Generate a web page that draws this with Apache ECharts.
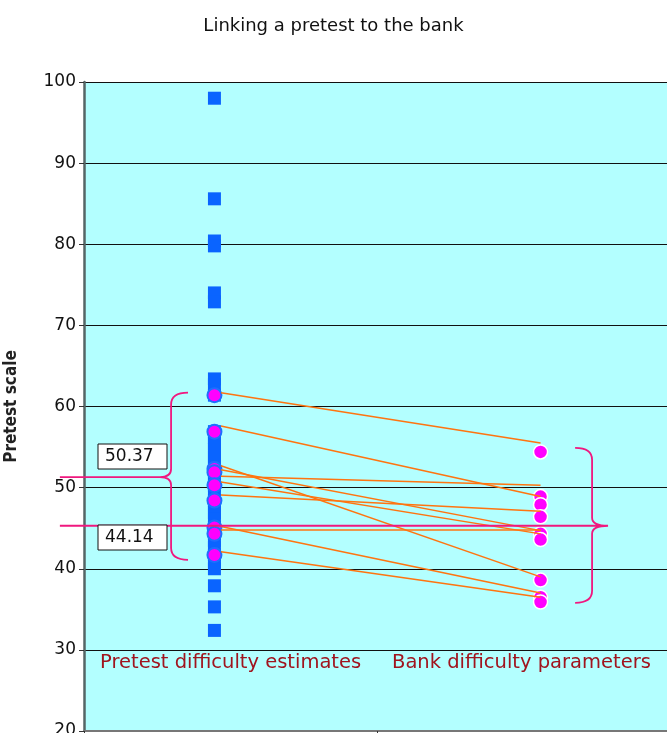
<!DOCTYPE html>
<html>
<head>
<meta charset="utf-8">
<script src="https://cdn.jsdelivr.net/npm/echarts@6/dist/echarts.min.js"></script>
<style>
  html, body { margin: 0; padding: 0; background: #fff; }
  #chart { width: 667px; height: 733px; }
</style>
</head>
<body>
<div id="chart"></div>
<script>
// pretest item difficulties (blue squares, x = 1)
const pretestItems = [98.0, 85.6, 80.4, 79.8, 74.0, 72.9, 63.4, 62.7, 61.4, 56.9, 56.2, 55.4,
  54.7, 53.8, 53.1, 52.3, 51.9, 51.2, 50.3, 49.6, 48.4, 47.7, 46.9, 46.1, 45.1, 44.3,
  43.5, 42.6, 41.7, 40.9, 40.0, 37.9, 35.3, 32.4];
// linking items: pretest estimates (x = 1) and bank parameters (x = 2)
const linkPretest = [61.4, 56.9, 52.3, 51.9, 50.3, 48.4, 45.1, 44.3, 41.7];
const linkBank = [54.4, 48.9, 47.9, 46.4, 44.3, 43.6, 38.6, 36.5, 35.9];
// orange connector lines, left end / right end
const lineFrom = [61.7, 57.6, 52.7, 52.2, 51.4, 50.7, 49.1, 45.2, 44.8, 42.1];
const lineTo = [55.5, 48.9, 39.0, 44.7, 50.3, 44.3, 47.1, 37.0, 44.8, 36.5];
// braces: top, tip, bottom
const braces = [[61.7, 51.3, 41.1], [54.9, 45.3, 35.8]];
const meanLabels = ['50.37', '44.14'];
const columnNames = ['Pretest difficulty estimates', 'Bank difficulty parameters'];

const chart = echarts.init(document.getElementById('chart'));
const font = 'DejaVu Sans, Verdana, sans-serif';
const pink = '#F0187F';

// x positions of brace parts: end, spine, tip, line start
const braceX = [
  {end: 0.919, spine: 0.867, tip: 0.833, start: 0.526},
  {end: 2.106, spine: 2.158, tip: 2.207, start: 0.526}
];

function renderBrace(params, api) {
  const bx = braceX[params.dataIndex];
  const top = api.value(0), mid = api.value(1), bot = api.value(2);
  const p = (x, y) => api.coord([x, y]);
  const e1 = p(bx.end, top), s1 = p(bx.spine, top);
  const sm = p(bx.spine, mid), t = p(bx.tip, mid);
  const s2 = p(bx.spine, bot), e2 = p(bx.end, bot);
  const st = p(bx.start, mid);
  const r = 12, rm = 8;
  const d = 'M' + e1[0] + ' ' + e1[1] +
    ' Q' + s1[0] + ' ' + s1[1] + ' ' + s1[0] + ' ' + (s1[1] + r) +
    ' L' + sm[0] + ' ' + (sm[1] - rm) +
    ' Q' + sm[0] + ' ' + sm[1] + ' ' + t[0] + ' ' + t[1] +
    ' Q' + sm[0] + ' ' + sm[1] + ' ' + sm[0] + ' ' + (sm[1] + rm) +
    ' L' + s2[0] + ' ' + (s2[1] - r) +
    ' Q' + s2[0] + ' ' + s2[1] + ' ' + e2[0] + ' ' + e2[1] +
    ' M' + st[0] + ' ' + st[1] + ' L' + t[0] + ' ' + t[1];
  return {
    type: 'path',
    shape: {pathData: d},
    style: {fill: null, stroke: pink, lineWidth: 1.8}
  };
}

const option = {
  animation: false,
  title: {
    text: 'Linking a pretest to the bank',
    left: 'center',
    top: 12,
    textStyle: {fontFamily: font, fontSize: 18, fontWeight: 'normal', color: '#111'}
  },
  grid: {
    left: 84, top: 82, right: -4, bottom: 2,
    show: true, backgroundColor: '#B3FFFF', borderWidth: 0,
    outerBoundsMode: 'none'
  },
  xAxis: {
    type: 'value', min: 0.6, max: 2.4, interval: 0.9,
    axisLine: {lineStyle: {color: '#777', width: 2}},
    axisTick: {show: true, length: 5, lineStyle: {color: '#333'}},
    axisLabel: {show: false},
    splitLine: {show: false}
  },
  yAxis: {
    type: 'value', min: 20, max: 100, interval: 10,
    name: 'Pretest scale',
    nameLocation: 'middle',
    nameGap: 64,
    nameTextStyle: {fontFamily: 'DejaVu Sans Condensed, DejaVu Sans, sans-serif', fontWeight: 'bold', fontSize: 17, color: '#222'},
    axisLine: {show: true, lineStyle: {color: '#556666', width: 2.5}},
    axisTick: {show: true, length: 5, lineStyle: {color: '#333'}},
    axisLabel: {fontFamily: font, fontSize: 17, color: '#111', margin: 8},
    splitLine: {lineStyle: {color: '#111', width: 1}}
  },
  series: [
    {
      type: 'scatter', z: 2,
      symbol: 'rect', symbolSize: 13,
      itemStyle: {color: '#0A64FF', opacity: 1},
      data: pretestItems.map(v => [1, v])
    },
    {
      type: 'scatter', z: 3,
      symbol: 'circle', symbolSize: 14,
      itemStyle: {color: '#FF00FF', borderColor: '#1E6FFF', borderWidth: 2, opacity: 1},
      data: linkPretest.map(v => [1, v])
    },
    {
      type: 'scatter', z: 3,
      symbol: 'circle', symbolSize: 14,
      itemStyle: {color: '#FF00FF', borderColor: '#fff', borderWidth: 1.5, opacity: 1},
      data: linkBank.map(v => [2, v])
    },
    {
      type: 'lines', coordinateSystem: 'cartesian2d', z: 4,
      lineStyle: {color: '#FF7410', width: 1.5, opacity: 1},
      data: lineFrom.map((v, i) => ({coords: [[1.02, v], [2, lineTo[i]]]}))
    },
    {
      type: 'custom', z: 5, clip: false,
      renderItem: renderBrace,
      data: braces
    }
  ],
  graphic: [
    {type: 'rect', z: 100, shape: {x: 98, y: 444, width: 69, height: 25},
      style: {fill: '#fff', stroke: '#111', lineWidth: 1}},
    {type: 'text', z: 101, x: 105, y: 456.5,
      style: {text: meanLabels[0], font: '17px ' + font, fill: '#111', verticalAlign: 'middle'}},
    {type: 'rect', z: 100, shape: {x: 98, y: 525, width: 69, height: 25},
      style: {fill: '#fff', stroke: '#111', lineWidth: 1}},
    {type: 'text', z: 101, x: 105, y: 537.5,
      style: {text: meanLabels[1], font: '17px ' + font, fill: '#111', verticalAlign: 'middle'}},
    {type: 'text', z: 101, x: 100, y: 663,
      style: {text: columnNames[0], font: '19.5px ' + font, fill: '#A0141E', verticalAlign: 'middle'}},
    {type: 'text', z: 101, x: 392, y: 663,
      style: {text: columnNames[1], font: '19.5px ' + font, fill: '#A0141E', verticalAlign: 'middle'}}
  ]
};

chart.setOption(option);
</script>
</body>
</html>
